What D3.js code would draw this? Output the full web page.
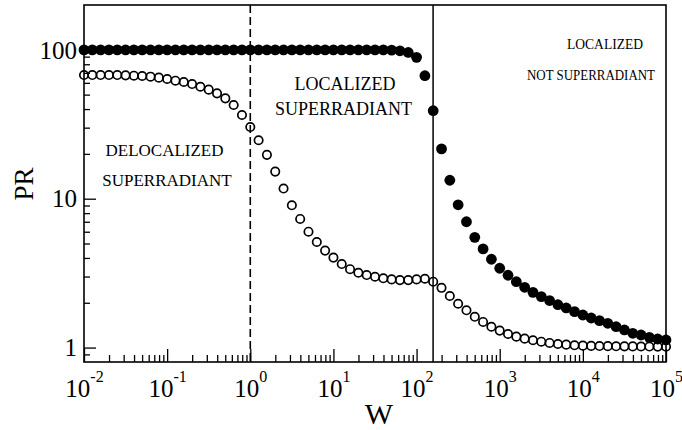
<!DOCTYPE html>
<html>
<head>
<meta charset="utf-8">
<script src="https://cdn.jsdelivr.net/npm/d3@7"></script>
<style>
  body { margin: 0; background: #fff; }
  svg text { font-family: "Liberation Serif", "Times New Roman", serif; fill: #000; }
</style>
</head>
<body>
<div id="chart"></div>
<script>
// sampling grid: log10(W)
const logW = [
  -2.0, -1.9, -1.8, -1.7, -1.6, -1.5, -1.4, -1.3, -1.2, -1.1,
  -1.0, -0.9, -0.8, -0.7, -0.6, -0.5, -0.4, -0.3, -0.2, -0.1,
   0.0,  0.1,  0.2,  0.3,  0.4,  0.5,  0.6,  0.7,  0.8,  0.9,
   1.0,  1.1,  1.2,  1.3,  1.4,  1.5,  1.6,  1.7,  1.8,  1.9,
   2.0,  2.1,  2.2,  2.3,  2.4,  2.5,  2.6,  2.7,  2.8,  2.9,
   3.0,  3.1,  3.2,  3.3,  3.4,  3.5,  3.6,  3.7,  3.8,  3.9,
   4.0,  4.1,  4.2,  4.3,  4.4,  4.5,  4.6,  4.7,  4.8,  4.9,
   5.0
]

// filled circles
const prFilled = [
  100, 100, 100, 100, 100, 100, 100, 100, 100, 100,
  100, 100, 100, 100, 100, 100, 100, 100, 100, 100,
  100, 100, 100, 100, 100, 100, 100, 100, 100, 100,
  100, 100, 100, 100, 100, 100, 100, 99.5, 98.5, 96,
  89, 67, 39, 21.6, 13.3, 9.1, 7.0, 5.5, 4.6, 3.92,
  3.41, 3.06, 2.77, 2.54, 2.35, 2.20, 2.07, 1.94, 1.845, 1.742,
  1.655, 1.58, 1.516, 1.456, 1.381, 1.313, 1.247, 1.215, 1.172, 1.142,
  1.125
]

// open circles
const prOpen = [
  67.7, 67.7, 67.7, 67.7, 67.7, 67.4, 67, 66.7, 66, 65,
  63.7, 62, 60.8, 58.9, 56.5, 54, 51, 47.2, 42.6, 36.5,
  30.3, 24.7, 19.7, 15.2, 11.7, 9.03, 7.31, 6.0, 5.12, 4.48,
  4.02, 3.64, 3.36, 3.18, 3.07, 2.99, 2.92, 2.87, 2.84, 2.84,
  2.87, 2.90, 2.77, 2.52, 2.22, 1.97, 1.78, 1.61, 1.486, 1.38,
  1.30, 1.234, 1.184, 1.148, 1.12, 1.095, 1.074, 1.057, 1.046, 1.036,
  1.03, 1.026, 1.024, 1.022, 1.02, 1.019, 1.018, 1.017, 1.016, 1.015,
  1.014
]

const xMajor = [1e-2, 1e-1, 1e0, 1e1, 1e2, 1e3, 1e4, 1e5]
const xExp = ["-2", "-1", "0", "1", "2", "3", "4", "5"]
const yMajor = [1, 10, 100]
const yLabels = ["1", "10", "100"]

const W_DASHED = 1        // dashed boundary
const W_SOLID = 158       // solid boundary

const WIDTH = 682, HEIGHT = 430
const LEFT = 84, RIGHT = 666, TOP = 5, BOTTOM = 362

const svg = d3.select("#chart").append("svg")
    .attr("width", WIDTH)
    .attr("height", HEIGHT)

const x = d3.scaleLog().domain([1e-2, 1e5]).range([LEFT, RIGHT])
const y = d3.scaleLog().domain([0.8, 200]).range([BOTTOM, TOP])

// minor ticks: 2..9 in each decade, inside the domain
const minorTicks = (scale) => {
    const [a, b] = scale.domain()
    const out = []
    for (let e = -3; e <= 6; e++) {
        for (let k = 2; k <= 9; k++) {
            const v = k * Math.pow(10, e)
            if (v > a && v < b) out.push(v)
        }
    }
    return out
}

// x axis (ticks inward)
svg.append("g")
    .attr("transform", `translate(0,${BOTTOM})`)
    .call(d3.axisBottom(x).tickValues(minorTicks(x)).tickSize(-7).tickFormat(""))
    .call(g => g.select(".domain").remove())

const xAx = svg.append("g")
    .attr("transform", `translate(0,${BOTTOM})`)
    .call(d3.axisBottom(x).tickValues(xMajor).tickSize(-13).tickFormat(""))
    .call(g => g.select(".domain").remove())

xAx.selectAll(".tick").each(function(d, i) {
    const t = d3.select(this).append("text")
        .attr("y", 35)
        .attr("text-anchor", "middle")
        .style("font-size", "25px")
    t.append("tspan").text("10")
    t.append("tspan").attr("dy", -15).style("font-size", "16px").text(xExp[i])
})

// y axis
svg.append("g")
    .attr("transform", `translate(${LEFT},0)`)
    .call(d3.axisLeft(y).tickValues(minorTicks(y)).tickSize(-6).tickFormat(""))
    .call(g => g.select(".domain").remove())

const yAx = svg.append("g")
    .attr("transform", `translate(${LEFT},0)`)
    .call(d3.axisLeft(y).tickValues(yMajor).tickSize(-12).tickFormat(""))
    .call(g => g.select(".domain").remove())

yAx.selectAll(".tick").append("text")
    .attr("x", -7)
    .attr("dy", "0.33em")
    .attr("text-anchor", "end")
    .style("font-size", "25px")
    .text((d, i) => yLabels[i])

svg.selectAll(".tick line").attr("stroke", "#000").attr("stroke-width", 1.3)

// frame
svg.append("rect")
    .attr("x", LEFT).attr("y", TOP)
    .attr("width", RIGHT - LEFT).attr("height", BOTTOM - TOP)
    .attr("fill", "none").attr("stroke", "#000").attr("stroke-width", 1.6)

// boundaries
svg.append("line")
    .attr("x1", x(W_DASHED)).attr("x2", x(W_DASHED))
    .attr("y1", TOP).attr("y2", BOTTOM)
    .attr("stroke", "#000").attr("stroke-width", 1.6)
    .attr("stroke-dasharray", "8,4")

svg.append("line")
    .attr("x1", x(W_SOLID)).attr("x2", x(W_SOLID))
    .attr("y1", TOP).attr("y2", BOTTOM)
    .attr("stroke", "#000").attr("stroke-width", 1.5)

// data
const filled = logW.map((e, i) => ({w: Math.pow(10, e), pr: prFilled[i]}))
const open = logW.map((e, i) => ({w: Math.pow(10, e), pr: prOpen[i]}))

svg.append("g").selectAll("circle")
    .data(filled)
    .enter().append("circle")
    .attr("cx", d => x(d.w))
    .attr("cy", d => y(d.pr))
    .attr("r", 5.4)
    .attr("fill", "#000")

svg.append("g").selectAll("circle")
    .data(open)
    .enter().append("circle")
    .attr("cx", d => x(d.w))
    .attr("cy", d => y(d.pr))
    .attr("r", 4.2)
    .attr("fill", "none")
    .attr("stroke", "#000")
    .attr("stroke-width", 1.7)

// region notes
const notes = [
    {t: "DELOCALIZED", x: 164.5, y: 156, s: 17},
    {t: "SUPERRADIANT", x: 167, y: 186, s: 17},
    {t: "LOCALIZED", x: 345, y: 90, s: 18},
    {t: "SUPERRADIANT", x: 343.5, y: 115, s: 18},
    {t: "LOCALIZED", x: 605, y: 49, s: 15, len: 76},
    {t: "NOT SUPERRADIANT", x: 591, y: 80, s: 15, len: 128}
]
svg.append("g").selectAll("text")
    .data(notes)
    .enter().append("text")
    .attr("x", d => d.x)
    .attr("y", d => d.y)
    .attr("text-anchor", "middle")
    .attr("textLength", d => d.len || null)
    .attr("lengthAdjust", d => d.len ? "spacingAndGlyphs" : null)
    .style("font-size", d => d.s + "px")
    .text(d => d.t)

// axis titles
svg.append("text")
    .attr("x", 379).attr("y", 424)
    .attr("text-anchor", "middle")
    .style("font-size", "30px")
    .text("W")

svg.append("text")
    .attr("transform", "translate(33,184) rotate(-90)")
    .attr("text-anchor", "middle")
    .style("font-size", "27px")
    .text("PR")
</script>
</body>
</html>
